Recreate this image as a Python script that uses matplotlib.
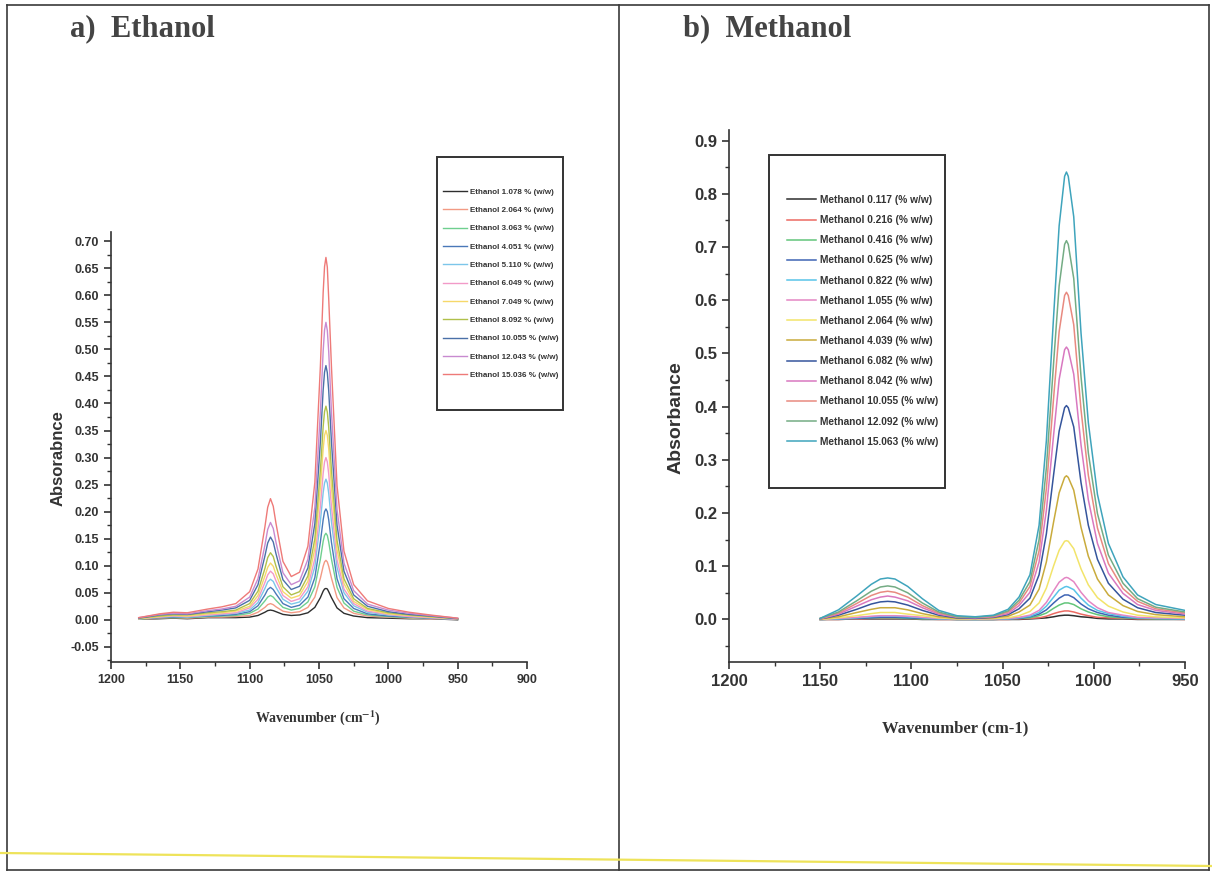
import matplotlib
matplotlib.use("Agg")
import matplotlib.pyplot as plt
from matplotlib.lines import Line2D
from matplotlib.patches import Rectangle
from matplotlib.ticker import MultipleLocator, FormatStrFormatter

plt.rcParams['font.family'] = ['Liberation Sans Narrow', 'Liberation Sans', 'DejaVu Sans']
plt.rcParams['font.weight'] = 'bold'
plt.rcParams['mathtext.fontset'] = 'stix'

# ---- a) Ethanol spectra (values read off the scanned figure) ----
eth_wavenumber = [1180, 1165, 1155, 1145, 1130, 1120, 1110, 1100, 1094, 1089, 1087, 1085, 1083, 1081, 1076, 1070,
                  1064, 1058, 1053, 1049, 1047, 1046, 1045, 1044, 1043, 1041, 1037, 1032, 1025, 1015, 1000, 985,
                  970, 950]

eth_1_078 = [0.001, 0.002, 0.003, 0.002, 0.004, 0.004, 0.004, 0.005, 0.008, 0.014, 0.017, 0.018, 0.017, 0.015, 0.010,
             0.008, 0.009, 0.013, 0.023, 0.041, 0.053, 0.057, 0.058, 0.057, 0.052, 0.041, 0.022, 0.012, 0.007, 0.004,
             0.003, 0.002, 0.002, 0.000]
eth_2_064 = [0.001, 0.003, 0.004, 0.003, 0.005, 0.005, 0.006, 0.008, 0.014, 0.023, 0.028, 0.030, 0.028, 0.024, 0.016,
             0.013, 0.015, 0.023, 0.042, 0.077, 0.099, 0.107, 0.110, 0.107, 0.099, 0.077, 0.041, 0.022, 0.012, 0.007,
             0.005, 0.003, 0.002, 0.001]
eth_3_063 = [0.001, 0.004, 0.004, 0.004, 0.006, 0.007, 0.008, 0.012, 0.020, 0.035, 0.042, 0.045, 0.042, 0.036, 0.023,
             0.018, 0.021, 0.033, 0.061, 0.112, 0.145, 0.156, 0.160, 0.156, 0.144, 0.112, 0.060, 0.031, 0.016, 0.009,
             0.006, 0.004, 0.003, 0.001]
eth_4_051 = [0.002, 0.004, 0.005, 0.005, 0.007, 0.008, 0.010, 0.015, 0.026, 0.046, 0.056, 0.060, 0.056, 0.048, 0.030,
             0.023, 0.027, 0.042, 0.078, 0.144, 0.185, 0.200, 0.205, 0.200, 0.185, 0.143, 0.076, 0.039, 0.021, 0.011,
             0.007, 0.005, 0.003, 0.001]
eth_5_110 = [0.002, 0.005, 0.006, 0.005, 0.008, 0.010, 0.012, 0.018, 0.032, 0.058, 0.070, 0.075, 0.071, 0.060, 0.038,
             0.029, 0.033, 0.053, 0.098, 0.182, 0.235, 0.253, 0.260, 0.253, 0.234, 0.181, 0.097, 0.050, 0.026, 0.014,
             0.009, 0.006, 0.004, 0.001]
eth_6_049 = [0.002, 0.005, 0.007, 0.006, 0.009, 0.011, 0.013, 0.022, 0.038, 0.069, 0.083, 0.090, 0.085, 0.072, 0.045,
             0.034, 0.039, 0.061, 0.113, 0.210, 0.271, 0.292, 0.300, 0.292, 0.270, 0.209, 0.111, 0.057, 0.030, 0.016,
             0.010, 0.006, 0.004, 0.001]
eth_7_049 = [0.002, 0.006, 0.008, 0.007, 0.011, 0.013, 0.016, 0.025, 0.045, 0.081, 0.097, 0.105, 0.099, 0.084, 0.052,
             0.040, 0.045, 0.071, 0.132, 0.245, 0.316, 0.341, 0.350, 0.341, 0.316, 0.244, 0.130, 0.067, 0.034, 0.019,
             0.011, 0.008, 0.005, 0.002]
eth_8_092 = [0.003, 0.007, 0.009, 0.009, 0.013, 0.015, 0.018, 0.030, 0.053, 0.095, 0.115, 0.124, 0.117, 0.099, 0.061,
             0.046, 0.052, 0.081, 0.150, 0.277, 0.357, 0.385, 0.395, 0.384, 0.356, 0.276, 0.147, 0.076, 0.039, 0.021,
             0.013, 0.009, 0.006, 0.002]
eth_10_055 = [0.003, 0.009, 0.011, 0.010, 0.015, 0.018, 0.022, 0.036, 0.065, 0.118, 0.142, 0.153, 0.144, 0.122, 0.074,
              0.056, 0.062, 0.096, 0.178, 0.329, 0.425, 0.458, 0.470, 0.457, 0.424, 0.328, 0.175, 0.090, 0.046, 0.025,
              0.015, 0.010, 0.007, 0.002]
eth_12_043 = [0.004, 0.010, 0.012, 0.011, 0.017, 0.020, 0.025, 0.042, 0.076, 0.138, 0.167, 0.180, 0.169, 0.143, 0.087,
              0.065, 0.072, 0.112, 0.208, 0.385, 0.497, 0.536, 0.550, 0.535, 0.496, 0.384, 0.204, 0.105, 0.054, 0.029,
              0.018, 0.012, 0.008, 0.003]
eth_15_036 = [0.004, 0.011, 0.014, 0.013, 0.020, 0.024, 0.030, 0.052, 0.094, 0.172, 0.208, 0.224, 0.210, 0.178, 0.108,
              0.080, 0.088, 0.136, 0.254, 0.469, 0.605, 0.653, 0.670, 0.652, 0.594, 0.467, 0.248, 0.127, 0.065, 0.035,
              0.021, 0.014, 0.009, 0.003]

eth_labels = ['Ethanol 1.078 % (w/w)', 'Ethanol 2.064 % (w/w)', 'Ethanol 3.063 % (w/w)', 'Ethanol 4.051 % (w/w)',
              'Ethanol 5.110 % (w/w)', 'Ethanol 6.049 % (w/w)', 'Ethanol 7.049 % (w/w)', 'Ethanol 8.092 % (w/w)',
              'Ethanol 10.055 % (w/w)', 'Ethanol 12.043 % (w/w)', 'Ethanol 15.036 % (w/w)']

# ---- b) Methanol spectra ----
meth_wavenumber = [1150, 1140, 1130, 1122, 1117, 1113, 1109, 1102, 1094, 1085, 1075, 1065, 1055, 1047, 1041, 1035,
                   1030, 1026, 1022, 1019, 1016, 1015, 1014, 1011, 1007, 1003, 998, 992, 984, 976, 966, 950]

meth_0_117 = [0.000, 0.000, 0.001, 0.001, 0.001, 0.001, 0.001, 0.001, 0.000, 0.000, 0.000, 0.000, 0.000, 0.000, 0.000, 0.001,
              0.002, 0.003, 0.005, 0.007, 0.008, 0.008, 0.008, 0.007, 0.005, 0.004, 0.002, 0.001, 0.001, 0.000, 0.000, 0.000]
meth_0_216 = [0.000, 0.000, 0.001, 0.002, 0.002, 0.002, 0.002, 0.002, 0.001, 0.000, 0.000, 0.000, 0.000, 0.000, 0.001, 0.002,
              0.003, 0.006, 0.011, 0.014, 0.016, 0.016, 0.016, 0.014, 0.010, 0.007, 0.004, 0.003, 0.002, 0.001, 0.001, 0.000]
meth_0_416 = [0.000, 0.001, 0.002, 0.003, 0.003, 0.003, 0.003, 0.002, 0.001, 0.001, 0.000, 0.000, 0.000, 0.001, 0.002, 0.003,
              0.007, 0.012, 0.021, 0.027, 0.031, 0.031, 0.031, 0.028, 0.020, 0.014, 0.009, 0.005, 0.003, 0.002, 0.001, 0.001]
meth_0_625 = [0.000, 0.001, 0.002, 0.003, 0.004, 0.004, 0.004, 0.003, 0.002, 0.001, 0.000, 0.000, 0.000, 0.001, 0.002, 0.005,
              0.010, 0.018, 0.031, 0.040, 0.046, 0.046, 0.046, 0.041, 0.029, 0.020, 0.013, 0.008, 0.004, 0.003, 0.002, 0.001]
meth_0_822 = [0.000, 0.001, 0.003, 0.005, 0.006, 0.006, 0.006, 0.005, 0.003, 0.001, 0.001, 0.000, 0.001, 0.001, 0.003, 0.006,
              0.013, 0.025, 0.042, 0.055, 0.061, 0.062, 0.061, 0.056, 0.040, 0.027, 0.017, 0.011, 0.006, 0.003, 0.002, 0.001]
meth_1_055 = [0.000, 0.002, 0.004, 0.006, 0.007, 0.007, 0.007, 0.006, 0.004, 0.002, 0.001, 0.0005, 0.001, 0.002, 0.004, 0.008,
              0.017, 0.032, 0.054, 0.070, 0.078, 0.079, 0.078, 0.071, 0.051, 0.035, 0.022, 0.013, 0.008, 0.004, 0.003, 0.002]
meth_2_064 = [0.000, 0.003, 0.007, 0.011, 0.013, 0.013, 0.013, 0.010, 0.007, 0.003, 0.001, 0.001, 0.0015, 0.003, 0.007, 0.015,
              0.031, 0.059, 0.101, 0.130, 0.147, 0.148, 0.147, 0.133, 0.095, 0.065, 0.041, 0.025, 0.014, 0.008, 0.005, 0.003]
meth_4_039 = [0.001, 0.005, 0.013, 0.019, 0.022, 0.022, 0.022, 0.018, 0.011, 0.005, 0.002, 0.002, 0.003, 0.006, 0.014, 0.027,
              0.057, 0.108, 0.184, 0.238, 0.267, 0.270, 0.267, 0.243, 0.173, 0.119, 0.076, 0.046, 0.026, 0.015, 0.009, 0.005]
meth_6_082 = [0.001, 0.008, 0.019, 0.029, 0.033, 0.034, 0.033, 0.027, 0.017, 0.008, 0.003, 0.002, 0.004, 0.009, 0.020, 0.040,
              0.084, 0.161, 0.273, 0.354, 0.398, 0.402, 0.398, 0.362, 0.257, 0.177, 0.113, 0.068, 0.038, 0.022, 0.013, 0.008]
meth_8_042 = [0.001, 0.010, 0.025, 0.037, 0.042, 0.044, 0.042, 0.035, 0.022, 0.010, 0.004, 0.003, 0.005, 0.011, 0.026, 0.051,
              0.108, 0.205, 0.348, 0.451, 0.507, 0.512, 0.507, 0.461, 0.328, 0.225, 0.143, 0.087, 0.049, 0.028, 0.017, 0.010]
meth_10_055 = [0.002, 0.012, 0.030, 0.045, 0.051, 0.053, 0.051, 0.042, 0.026, 0.012, 0.005, 0.004, 0.006, 0.014, 0.031, 0.062,
               0.129, 0.246, 0.418, 0.541, 0.609, 0.615, 0.609, 0.554, 0.394, 0.271, 0.172, 0.105, 0.058, 0.034, 0.020, 0.012]
meth_12_092 = [0.002, 0.014, 0.035, 0.053, 0.061, 0.063, 0.061, 0.050, 0.031, 0.014, 0.005, 0.004, 0.007, 0.016, 0.036, 0.071,
               0.150, 0.285, 0.484, 0.627, 0.705, 0.712, 0.705, 0.641, 0.456, 0.313, 0.199, 0.121, 0.068, 0.039, 0.023, 0.014]
meth_15_063 = [0.002, 0.018, 0.044, 0.066, 0.076, 0.078, 0.076, 0.062, 0.039, 0.017, 0.007, 0.005, 0.008, 0.019, 0.042, 0.084,
               0.177, 0.336, 0.572, 0.740, 0.833, 0.841, 0.833, 0.757, 0.538, 0.370, 0.235, 0.143, 0.080, 0.046, 0.028, 0.017]

meth_labels = ['Methanol 0.117 (% w/w)', 'Methanol 0.216 (% w/w)', 'Methanol 0.416 (% w/w)', 'Methanol 0.625 (% w/w)',
               'Methanol 0.822 (% w/w)', 'Methanol 1.055 (% w/w)', 'Methanol 2.064 (% w/w)', 'Methanol 4.039 (% w/w)',
               'Methanol 6.082 (% w/w)', 'Methanol 8.042 (% w/w)', 'Methanol 10.055 (% w/w)', 'Methanol 12.092 (% w/w)',
               'Methanol 15.063 (% w/w)']

eth_series = [eth_1_078, eth_2_064, eth_3_063, eth_4_051, eth_5_110, eth_6_049, eth_7_049, eth_8_092,
              eth_10_055, eth_12_043, eth_15_036]
meth_series = [meth_0_117, meth_0_216, meth_0_416, meth_0_625, meth_0_822, meth_1_055, meth_2_064, meth_4_039,
               meth_6_082, meth_8_042, meth_10_055, meth_12_092, meth_15_063]

# washed-out scan colours
eth_colors = ['#2e2e2e', '#f29a84', '#6fcf8f', '#4a78b8', '#7cc6ea', '#f29ac8', '#f6d86a', '#b0c04a',
              '#4a70a8', '#c88ad0', '#ee7a78']
meth_colors = ['#2e2e2e', '#ec6a62', '#62c57a', '#3e64b4', '#58c4e8', '#e486c4', '#f2e46a', '#c9ab3c',
               '#35559c', '#d878c0', '#e88a80', '#74ac84', '#3fa4bc']

W, H = 1212, 871
ink = '#333333'


def fx(px):
    return px / W


def fy(py):
    return 1 - py / H


def style_axes(ax, labelsize):
    for s in ('top', 'right'):
        ax.spines[s].set_visible(False)
    for s in ('left', 'bottom'):
        ax.spines[s].set_linewidth(1.2)
        ax.spines[s].set_color(ink)
    ax.tick_params(which='major', direction='out', length=5, width=1.2, colors=ink, labelsize=labelsize)
    ax.tick_params(which='minor', direction='out', length=3, width=1.0, colors=ink)


fig = plt.figure(figsize=(W / 100, H / 100), dpi=100)

# ---- panel a ----
ax1 = fig.add_axes([fx(111), fy(662), fx(527) - fx(111), (662 - 232) / H])
for y, c, lab in zip(eth_series, eth_colors, eth_labels):
    ax1.plot(eth_wavenumber, y, color=c, lw=1.0, label=lab)
ax1.set_xlim(1200, 900)
ax1.set_ylim(-0.078, 0.717)
ax1.xaxis.set_major_locator(MultipleLocator(50))
ax1.xaxis.set_minor_locator(MultipleLocator(25))
ax1.yaxis.set_major_locator(MultipleLocator(0.05))
ax1.yaxis.set_minor_locator(MultipleLocator(0.025))
ax1.yaxis.set_major_formatter(FormatStrFormatter('%.2f'))
style_axes(ax1, 9)

leg1 = ax1.legend(loc='upper left', bbox_to_anchor=(fx(443), fy(188)), bbox_transform=fig.transFigure,
                  frameon=False, borderpad=0, borderaxespad=0, fontsize=5.8, handlelength=3.0,
                  handletextpad=0.4, labelspacing=1.33)
for t in leg1.get_texts():
    t.set_color(ink)
fig.add_artist(Rectangle((fx(437), fy(410)), fx(563) - fx(437), (410 - 157) / H, transform=fig.transFigure,
                         fill=False, lw=1.4, ec=ink))

fig.text(fx(58), fy(458), 'Absorabnce', rotation=90, ha='center', va='center', fontsize=12, color=ink)
fig.text(fx(318), fy(718), 'Wavenumber (cm$^{-1}$)', ha='center', va='center', fontsize=10, color=ink,
         family='Liberation Serif')
fig.text(fx(70), fy(36), 'a)  Ethanol', ha='left', va='baseline', fontsize=22, color='#444444',
         family='Liberation Serif', weight='bold')

# ---- panel b ----
ax2 = fig.add_axes([fx(729), fy(662), fx(1185) - fx(729), (662 - 130) / H])
for y, c, lab in zip(meth_series, meth_colors, meth_labels):
    ax2.plot(meth_wavenumber, y, color=c, lw=1.1, label=lab)
ax2.set_xlim(1200, 950)
ax2.set_ylim(-0.08, 0.92)
ax2.xaxis.set_major_locator(MultipleLocator(50))
ax2.xaxis.set_minor_locator(MultipleLocator(25))
ax2.yaxis.set_major_locator(MultipleLocator(0.1))
ax2.yaxis.set_minor_locator(MultipleLocator(0.05))
ax2.yaxis.set_major_formatter(FormatStrFormatter('%.1f'))
style_axes(ax2, 12)

leg2 = ax2.legend(loc='upper left', bbox_to_anchor=(fx(787), fy(195)), bbox_transform=fig.transFigure,
                  frameon=False, borderpad=0, borderaxespad=0, fontsize=7.3, handlelength=2.9,
                  handletextpad=0.35, labelspacing=1.0)
for t in leg2.get_texts():
    t.set_color(ink)
fig.add_artist(Rectangle((fx(769), fy(488)), fx(945) - fx(769), (488 - 155) / H, transform=fig.transFigure,
                         fill=False, lw=1.4, ec=ink))

fig.text(fx(676), fy(418), 'Absorbance', rotation=90, ha='center', va='center', fontsize=14, color=ink)
fig.text(fx(955), fy(728), 'Wavenumber (cm-1)', ha='center', va='center', fontsize=12, color=ink,
         family='Liberation Serif')
fig.text(fx(683), fy(36), 'b)  Methanol', ha='left', va='baseline', fontsize=22, color='#444444',
         family='Liberation Serif', weight='bold')

# ---- page frame, divider and the yellow scan line ----
frame_kw = dict(transform=fig.transFigure, color='#3a3a3a', lw=1.2)
fig.add_artist(Line2D([fx(7), fx(1209)], [fy(5), fy(5)], **frame_kw))
fig.add_artist(Line2D([fx(7), fx(7)], [fy(5), fy(870)], **frame_kw))
fig.add_artist(Line2D([fx(1209), fx(1209)], [fy(5), fy(870)], **frame_kw))
fig.add_artist(Line2D([fx(7), fx(1209)], [fy(870), fy(870)], **frame_kw))
fig.add_artist(Line2D([fx(619), fx(619)], [fy(5), fy(870)], **frame_kw))
fig.add_artist(Line2D([0, 1], [fy(853), fy(866)], transform=fig.transFigure, color='#eee35a', lw=1.6))

fig.savefig('out.png', dpi=100)
